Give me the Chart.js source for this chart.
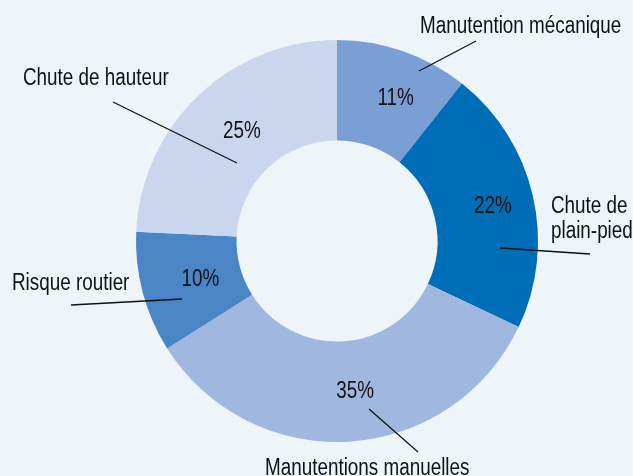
<!DOCTYPE html>
<html>
<head>
<meta charset="utf-8">
<script src="https://cdn.jsdelivr.net/npm/chart.js@4"></script>
<style>
  html, body { margin: 0; padding: 0; background: #EEF5F9; }
  #wrap { width: 633px; height: 476px; }
</style>
</head>
<body>
<div id="wrap"><canvas id="chart" width="633" height="476"></canvas></div>
<script>
// Daten
const categories = ["Manutention mécanique", "Chute de plain-pied", "Manutentions manuelles", "Risque routier", "Chute de hauteur"];
const values = [11, 22, 35, 10, 25];
const valueLabels = ["11%", "22%", "35%", "10%", "25%"];
const colors = ["#7A9FD4", "#006EB6", "#A0B7E0", "#4A85C5", "#CAD6ED"];

// Beschriftungen aussen: Textzeilen, Position und Linie
const outerText = [
  ["Manutention mécanique"],
  ["Chute de", "plain-pied"],
  ["Manutentions manuelles"],
  ["Risque routier"],
  ["Chute de hauteur"]
];
const outerPos = [
  { x: 420, y: 33, line: [476, 41, 419, 71] },
  { x: 551, y: 213, line: [500, 248, 590, 254] },
  { x: 265, y: 475, line: [369, 409, 418, 452] },
  { x: 12, y: 290, line: [71, 305, 182, 299] },
  { x: 23, y: 85, line: [113, 102, 237, 163] }
];

const FONT = '23px "Liberation Sans", Arial, sans-serif';
const SCALE_X = 0.82;
const PCT_SHIFT_X = 9; // Prozentwerte sitzen etwas rechts der Ringmitte

function drawText(ctx, text, x, y, align) {
  ctx.save();
  ctx.translate(x, y);
  ctx.scale(SCALE_X, 1);
  ctx.textAlign = align;
  ctx.fillText(text, 0, 0);
  ctx.restore();
}

const labelPlugin = {
  id: 'labels',
  afterDatasetsDraw(chart) {
    const ctx = chart.ctx;
    const meta = chart.getDatasetMeta(0);
    ctx.save();
    ctx.font = FONT;
    ctx.fillStyle = '#111';
    ctx.strokeStyle = '#111';
    ctx.lineWidth = 1.3;
    ctx.textBaseline = 'middle';
    meta.data.forEach((arc, i) => {
      const p = arc.tooltipPosition();
      drawText(ctx, valueLabels[i], p.x + PCT_SHIFT_X, p.y, 'center');
    });
    ctx.textBaseline = 'alphabetic';
    outerPos.forEach((o, i) => {
      outerText[i].forEach((t, k) => drawText(ctx, t, o.x, o.y + k * 25, 'left'));
      ctx.beginPath();
      ctx.moveTo(o.line[0], o.line[1]);
      ctx.lineTo(o.line[2], o.line[3]);
      ctx.stroke();
    });
    ctx.restore();
  }
};

new Chart(document.getElementById('chart'), {
  type: 'doughnut',
  data: {
    labels: categories,
    datasets: [{
      data: values,
      backgroundColor: colors,
      borderWidth: 0
    }]
  },
  options: {
    responsive: false,
    animation: false,
    cutout: '50%',
    layout: { padding: { top: 40, bottom: 34, left: 136, right: 95 } },
    plugins: {
      legend: { display: false },
      tooltip: { enabled: false }
    }
  },
  plugins: [labelPlugin]
});
</script>
</body>
</html>
